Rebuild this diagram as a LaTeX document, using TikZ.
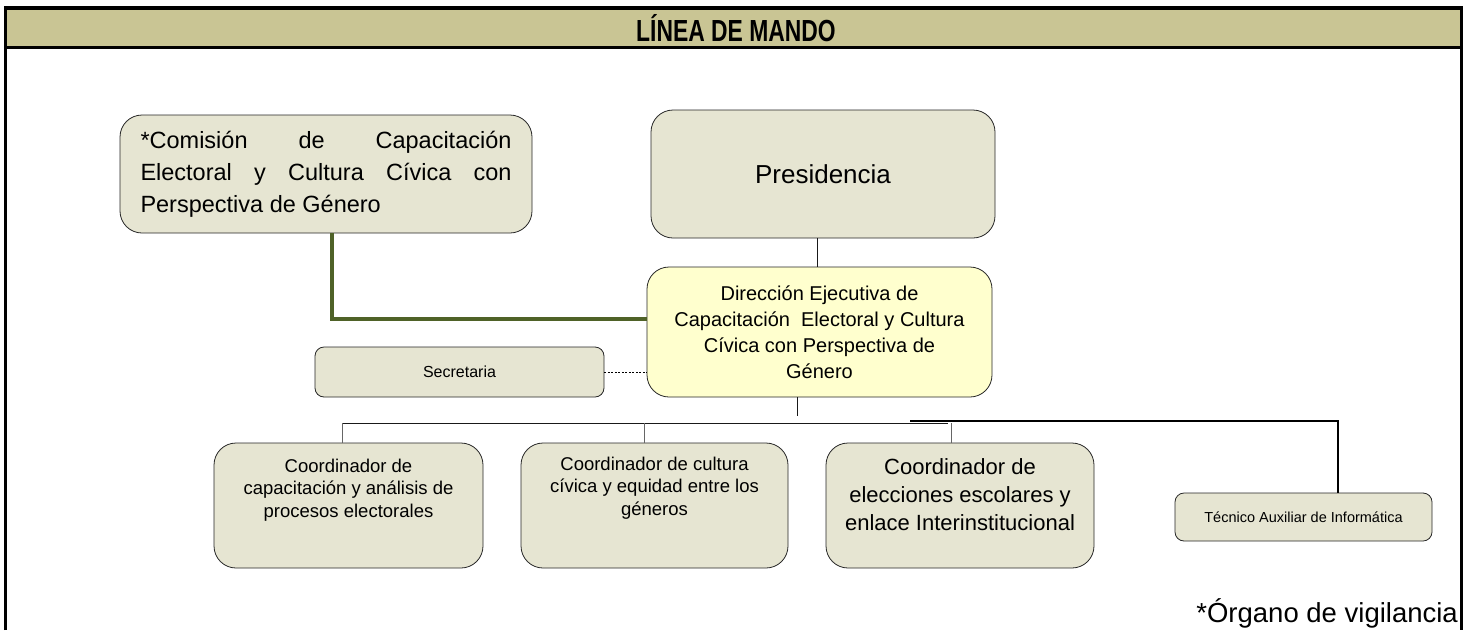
\documentclass[tikz,border=0pt]{standalone}
\usepackage{fontspec}
\setmainfont{Liberation Sans}
\usepackage{graphicx}
\definecolor{boxfill}{RGB}{230,229,210}
\definecolor{dirfill}{RGB}{255,255,206}
\definecolor{headfill}{RGB}{201,197,148}
\definecolor{olive}{RGB}{79,98,40}
\begin{document}
\begin{tikzpicture}[x=1pt,y=-1pt,
  box/.style={draw=black!85, line width=0.8pt, rounded corners=22pt, fill=boxfill, inner sep=0pt},
  sbox/.style={box, rounded corners=9pt},
  lbl/.style={align=center, inner sep=0pt},
  conn/.style={draw=black!90, line width=0.8pt},
  tickln/.style={draw=black!60, line width=1pt},
  frameln/.style={draw=black, line width=3.5pt},
]
\useasboundingbox (0,0) rectangle (1468,630);
% frame and header
\fill[headfill] (5.5,8) rectangle (1461.5,47);
\draw[frameln] (5.5,630) -- (5.5,8) -- (1461.5,8) -- (1461.5,630);
\draw[draw=black, line width=3pt] (5.5,47) -- (1461.5,47);
\node[lbl, font=\fontsize{30.5}{32}\selectfont\bfseries] (head) at (736,28.5) {\scalebox{0.75}[1]{LÍNEA DE MANDO}};

% top boxes
\node[box, text width=371pt, inner xsep=20.5pt, minimum height=118pt, align=justify,
      font=\fontsize{23.5}{32}\selectfont] (com) at (326,174)
  {*Comisión de Capacitación\linebreak Electoral y Cultura Cívica con\linebreak Perspectiva de Género};
\node[box, minimum width=344pt, minimum height=128pt, font=\fontsize{26}{30}\selectfont] (pres) at (823,174) {Presidencia};
\node[box, fill=dirfill, minimum width=345pt, minimum height=130pt, align=center,
      font=\fontsize{20}{26}\selectfont] (dir) at (819.5,332)
  {Dirección Ejecutiva de\\Capacitación\ \ Electoral y Cultura\\Cívica con Perspectiva de\\Género};
\node[sbox, minimum width=289pt, minimum height=50pt, font=\fontsize{16}{18}\selectfont] (sec) at (459.5,372) {Secretaria};

% coordinators
\node[box, minimum width=269pt, minimum height=125pt] (c1) at (348.5,505.5) {};
\node[lbl, font=\fontsize{18.5}{22.5}\selectfont] (c1t) at (348.5,490) {Coordinador de\\capacitación y análisis de\\procesos electorales};
\node[box, minimum width=267pt, minimum height=125pt] (c2) at (654.5,505.5) {};
\node[lbl, font=\fontsize{18.5}{22.5}\selectfont] (c2t) at (654.5,488) {Coordinador de cultura\\cívica y equidad entre los\\géneros};
\node[box, minimum width=268pt, minimum height=125pt] (c3) at (960,505.5) {};
\node[lbl, font=\fontsize{22}{28}\selectfont] (c3t) at (960,495) {Coordinador de\\elecciones escolares y\\enlace Interinstitucional};
\node[sbox, minimum width=257pt, minimum height=48pt, font=\fontsize{14.5}{16}\selectfont] (tec) at (1303.5,517) {Técnico Auxiliar de Informática};

% footer
\node[lbl, anchor=base east, font=\fontsize{27.5}{30}\selectfont] (foot) at (1458,622) {*Órgano de vigilancia};

% connectors
\draw[conn] (pres.south -| 817,0) -- (dir.north -| 817,0);
\draw[draw=olive, line width=4pt] ([xshift=6pt]com.south) |- ([yshift=13pt]dir.west);
\draw[draw=black, line width=0.8pt, dash pattern=on 2pt off 1.5pt] (sec.east) -- (sec.east -| dir.west);
\coordinate (busL) at (342,423);
\coordinate (busR) at (948,423);
\coordinate (dirdrop) at (797,416);
\draw[conn] (dir.south -| dirdrop) -- (dirdrop);
\draw[conn] (busL) -- (busR);
\draw[tickln] (busL) -- (c1.north -| busL);
\draw[tickln] (c2.north -| 644,0) -- (644,423);
\draw[tickln] (c3.north -| 951,0) -- (951,423);
\coordinate (tecbusL) at (910,421);
\coordinate (tecbusR) at (1338,421);
\draw[draw=black, line width=1.6pt] (tecbusL) -- (tecbusR) -- (tecbusR |- tec.north);
\end{tikzpicture}
\end{document}
